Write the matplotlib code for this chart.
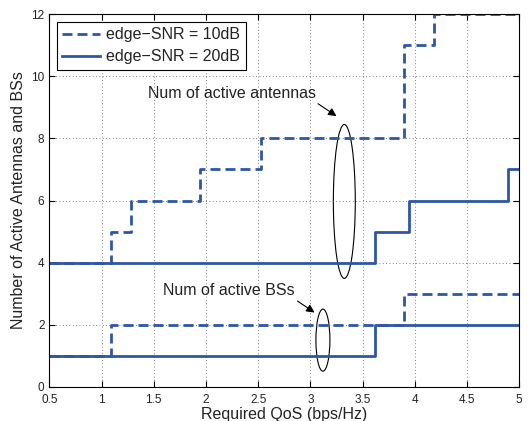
import numpy as np
import matplotlib
matplotlib.use('Agg')
import matplotlib.pyplot as plt
from matplotlib.patches import Ellipse

plt.rcParams['font.family'] = ['Liberation Sans', 'DejaVu Sans']

# step data (value holds until next x)
qos_ant10 = [0.5, 1.09, 1.28, 1.94, 2.53, 3.90, 4.18, 5.0]
ant10 = [4, 5, 6, 7, 8, 11, 12, 12]
qos_ant20 = [0.5, 3.62, 3.94, 4.89, 5.0]
ant20 = [4, 5, 6, 7, 7]
qos_bs10 = [0.5, 1.09, 3.90, 5.0]
bs10 = [1, 2, 3, 3]
qos_bs20 = [0.5, 3.62, 5.0]
bs20 = [1, 2, 2]

blue = '#2f55a6'
txt = '#222222'

fig = plt.figure(figsize=(5.32, 4.21), dpi=100)
ax = fig.add_axes([0.0927, 0.0815, 0.8833, 0.8845])

l1, = ax.step(qos_ant10, ant10, where='post', color=blue, lw=2, ls=(0, (3.6, 1.8)))
l2, = ax.step(qos_ant20, ant20, where='post', color=blue, lw=2)
ax.step(qos_bs10, bs10, where='post', color=blue, lw=2, ls=(0, (3.6, 1.8)))
ax.step(qos_bs20, bs20, where='post', color=blue, lw=2)

ax.add_patch(Ellipse((3.325, 5.97), 0.21, 4.96, fill=False, ec='black', lw=0.8))
ax.add_patch(Ellipse((3.12, 1.5), 0.134, 2.0, fill=False, ec='black', lw=0.8))

ax.annotate('Num of active antennas', xy=(3.25, 8.72), xytext=(2.245, 9.45),
            ha='center', va='center', fontsize=11.5, color=txt,
            arrowprops=dict(arrowstyle='-|>', color='black', lw=0.8, mutation_scale=12,
                            shrinkA=0, shrinkB=0, relpos=(0.99, 0.0)))
ax.annotate('Num of active BSs', xy=(3.04, 2.39), xytext=(2.22, 3.09),
            ha='center', va='center', fontsize=11.5, color=txt,
            arrowprops=dict(arrowstyle='-|>', color='black', lw=0.8, mutation_scale=12,
                            shrinkA=0, shrinkB=0, relpos=(0.99, 0.0)))

ax.set_xlim(0.5, 5)
ax.set_ylim(0, 12)
ax.set_xticks(np.arange(0.5, 5.01, 0.5))
ax.set_xticklabels(['0.5', '1', '1.5', '2', '2.5', '3', '3.5', '4', '4.5', '5'])
ax.set_yticks(np.arange(0, 13, 2))
ax.tick_params(direction='in', top=True, right=True, labelsize=8.5, length=4,
               labelcolor=txt)
ax.tick_params(axis='x', pad=5)
ax.grid(True, ls=(0, (1, 3)), color='#555555', lw=0.6)

ax.set_xlabel('Required QoS (bps/Hz)', fontsize=11.5, labelpad=1, color=txt)
ax.set_ylabel('Number of Active Antennas and BSs', fontsize=11.5, labelpad=4, color=txt)

leg = ax.legend([l1, l2], ['edge\u2212SNR = 10dB', 'edge\u2212SNR = 20dB'], loc='upper left',
                fontsize=11.5, fancybox=False, edgecolor='black', framealpha=1,
                borderpad=0.35, handlelength=2.4, handletextpad=0.35,
                borderaxespad=0.45, labelspacing=0.45)
leg.get_frame().set_linewidth(0.8)
for t in leg.get_texts():
    t.set_color(txt)

fig.savefig('out.png', dpi=100)
